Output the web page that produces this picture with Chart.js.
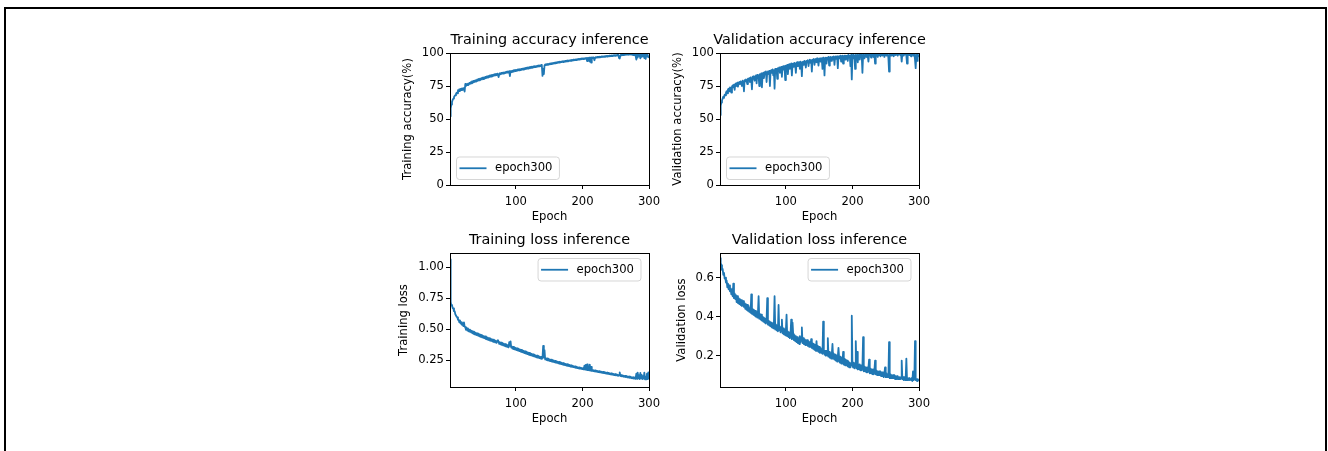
<!DOCTYPE html>
<html>
<head>
<meta charset="utf-8">
<title>Training / validation inference</title>
<script src="https://cdn.jsdelivr.net/npm/chart.js@4.4.1/dist/chart.umd.min.js"></script>
<style>
  html, body { margin: 0; padding: 0; background: #fff; overflow: hidden; }
  body { width: 1328px; height: 451px; position: relative; }
  #frame { position: absolute; left: 4px; top: 7px; width: 1319px; height: 470px; border: 2px solid #000; }
  canvas { position: absolute; }
</style>
</head>
<body>
<div id="frame"></div>
<canvas id="trainAccChart"></canvas>
<canvas id="valAccChart"></canvas>
<canvas id="trainLossChart"></canvas>
<canvas id="valLossChart"></canvas>
<script>
// tick labels
const xTicks = [100, 200, 300];
const accTicks = [0, 25, 50, 75, 100];
const trainLossTicks = [0.25, 0.5, 0.75, 1.0];
const valLossTicks = [0.2, 0.4, 0.6];
const seriesLabel = "epoch300";

// values, one per epoch (1..300)
const trainAcc = [
  52, 58, 61, 63, 64.5, 65.5, 66.5, 67.5, 68, 69,
  70, 69.5, 71.8, 71, 72.5, 71.2, 72.8, 71.8, 73.2, 72.2,
  73.3, 72.4, 70.8, 76.5, 75, 76.4, 75.6, 76.8, 76, 77.3,
  76.6, 77.8, 77, 78.4, 77.4, 78.8, 77.9, 79.1, 78.3, 79.5,
  78.6, 79.9, 79, 80.3, 79.3, 80.6, 79.7, 81, 80, 81.3,
  80.3, 81.6, 80.6, 81.9, 81, 82.2, 81.3, 82.5, 81.6, 82.8,
  81.9, 83.1, 82.2, 83.4, 82.5, 83.6, 82.8, 83.9, 83.1, 84.1,
  83.3, 84.3, 83.5, 81.8, 83.8, 84.7, 84, 84.9, 84.2, 85.1,
  84.4, 85.3, 84.6, 85.5, 84.9, 85.8, 85.1, 86, 85.3, 86.2,
  82.5, 86.3, 85.6, 86.5, 85.8, 86.8, 86, 87, 86.3, 87.2,
  86.5, 87.4, 86.7, 87.6, 86.9, 87.8, 87.1, 88, 87.3, 88.2,
  87.5, 88.4, 87.7, 88.6, 87.9, 88.8, 88.1, 89, 88.3, 89.2,
  88.5, 89.4, 88.7, 89.6, 88.9, 89.8, 89.1, 90, 89.3, 90.1,
  89.5, 90.3, 89.7, 90.5, 89.9, 90.7, 90.1, 90.9, 90.3, 82.6,
  88, 84, 90.6, 91.3, 90.8, 91.5, 91, 91.7, 91.2, 91.9,
  91.4, 92.1, 91.6, 92.3, 91.8, 92.5, 92, 92.7, 92.2, 92.9,
  92.4, 93.1, 92.6, 93.2, 92.8, 93.4, 92.9, 93.5, 93.1, 93.7,
  93.2, 93.8, 93.4, 94, 93.5, 94.1, 93.7, 94.3, 93.8, 94.4,
  94, 94.6, 94.1, 94.7, 94.3, 94.9, 94.4, 95, 94.6, 95.2,
  94.7, 95.3, 94.9, 95.5, 95, 95.6, 95.2, 95.8, 95.3, 95.9,
  95.4, 96, 95.5, 96.1, 95.7, 96.2, 93.8, 96.3, 95.9, 96.4,
  93.5, 96.5, 92.8, 96.6, 96.1, 96.7, 96.2, 94.5, 96.4, 96.9,
  96.5, 97, 96.6, 97.1, 96.7, 97.2, 96.8, 97.3, 96.9, 97.4,
  97, 97.5, 97.1, 97.6, 97.2, 97.7, 97.3, 97.8, 97.4, 97.9,
  97.5, 98, 97.6, 98.1, 97.7, 98.2, 97.8, 98.3, 97.9, 98.4,
  98, 98.5, 98.1, 98.6, 96.2, 95.8, 98.2, 98.7, 98.3, 98.8,
  98.4, 98.9, 98.5, 99, 98.6, 99, 98.7, 99.1, 98.7, 99.2,
  98.8, 99.2, 98.8, 99.3, 98.9, 98.5, 99.3, 98.4, 99.2, 97.5,
  95, 98.8, 96.5, 99, 97.8, 98.5, 96, 99.2, 97, 98.8,
  97.5, 99.3, 96.2, 98.5, 95.5, 99, 97.5, 98.6, 96.8, 97.2
];

const valAcc = [
  53, 60, 62.5, 64, 65.5, 67, 66, 68.5, 68, 70,
  71, 69.5, 72.5, 73, 71, 74, 73.5, 70, 74.5, 75.5,
  74, 76, 72, 76.5, 77, 75, 77.5, 74.5, 77, 78,
  76.5, 78.5, 77, 75, 79, 78, 71, 79.5, 78.5, 80,
  79, 76.5, 80.5, 79.5, 81, 78, 81.5, 80, 72.5, 82,
  80.5, 82.5, 79, 82, 83, 77, 83.5, 81.5, 83, 75,
  84, 82.5, 84.5, 74, 84, 85, 81, 85.5, 84, 86,
  78, 85.5, 86, 84, 86.5, 75, 86, 87, 85, 87.5,
  83, 87, 73, 88, 86.5, 88, 80.5, 88.5, 87, 89,
  85, 88.5, 89.5, 82, 89, 90, 87.5, 90, 79.5, 90.5,
  89.5, 91, 84, 90.5, 91.5, 88, 91, 92, 83, 91.5,
  92, 89.5, 92.5, 91, 85, 92.5, 93, 90, 92.5, 93,
  88, 93.5, 92, 82.5, 93, 93.5, 91, 94, 93, 89,
  94, 93.5, 94.5, 90, 94, 95, 92.5, 94.5, 86, 95,
  94, 95.5, 91, 95, 95.5, 93, 96, 94.5, 90.5, 95.5,
  96, 93.5, 96, 95, 88, 96.5, 95, 83, 96, 96.5,
  92, 96.5, 95.5, 97, 90.5, 96.5, 97, 94, 96.5, 97,
  95, 97.5, 91, 97, 97.5, 95.5, 97.5, 88.5, 97, 97.5,
  96, 98, 93.5, 97.5, 98, 92, 97.5, 98, 95, 98,
  97, 98, 94, 98.5, 97.5, 98, 90, 98.5, 80, 97.5,
  98.5, 96, 98, 88, 98.5, 97, 98.5, 93, 98, 98.5,
  95, 98.5, 99, 97.5, 85, 98.5, 99, 96, 98.5, 99,
  97, 99, 98, 93.5, 99, 98.5, 99, 96.5, 99, 98.5,
  99, 97, 99, 92, 99, 98.5, 99.5, 97, 99, 98.5,
  99.5, 97.5, 99, 99.5, 98, 99, 99.5, 97, 99.5, 99,
  98, 99.5, 99, 96.5, 86, 99.5, 99, 98, 99.5, 99,
  99.5, 97.5, 99, 99.5, 98.5, 99.5, 99, 98, 99.5, 99,
  99.5, 98.5, 99, 93.5, 99.5, 99, 98, 99.5, 99, 99.5,
  98, 92, 99.5, 99, 98.5, 99.5, 99, 97.5, 99.5, 99,
  99.5, 98, 99.5, 95, 88.5, 99, 94, 99.5, 97.5, 98.5
];

const trainLoss = [
  1.064, 0.72, 0.69, 0.695, 0.67, 0.668, 0.645, 0.645, 0.62, 0.62,
  0.60, 0.595, 0.575, 0.575, 0.555, 0.57, 0.545, 0.555, 0.535, 0.545,
  0.525, 0.555, 0.52, 0.515, 0.495, 0.51, 0.488, 0.505, 0.482, 0.495,
  0.478, 0.49, 0.472, 0.486, 0.466, 0.48, 0.46, 0.475, 0.455, 0.47,
  0.452, 0.466, 0.448, 0.462, 0.442, 0.458, 0.438, 0.452, 0.434, 0.448,
  0.43, 0.444, 0.426, 0.44, 0.42, 0.436, 0.416, 0.43, 0.412, 0.426,
  0.408, 0.422, 0.404, 0.418, 0.40, 0.414, 0.396, 0.41, 0.392, 0.406,
  0.388, 0.402, 0.41, 0.398, 0.38, 0.394, 0.376, 0.39, 0.372, 0.386,
  0.368, 0.382, 0.364, 0.378, 0.36, 0.374, 0.356, 0.37, 0.352, 0.395,
  0.365, 0.40, 0.35, 0.36, 0.342, 0.356, 0.338, 0.352, 0.334, 0.348,
  0.33, 0.344, 0.326, 0.34, 0.322, 0.336, 0.318, 0.332, 0.314, 0.328,
  0.31, 0.324, 0.306, 0.32, 0.302, 0.316, 0.298, 0.312, 0.294, 0.308,
  0.29, 0.304, 0.287, 0.30, 0.283, 0.296, 0.28, 0.292, 0.276, 0.288,
  0.272, 0.285, 0.269, 0.282, 0.266, 0.278, 0.262, 0.275, 0.259, 0.27,
  0.365, 0.27, 0.33, 0.255, 0.266, 0.25, 0.262, 0.247, 0.259, 0.244,
  0.255, 0.241, 0.252, 0.238, 0.249, 0.235, 0.246, 0.232, 0.243, 0.229,
  0.24, 0.226, 0.237, 0.223, 0.234, 0.22, 0.231, 0.217, 0.228, 0.214,
  0.225, 0.211, 0.222, 0.208, 0.219, 0.205, 0.216, 0.203, 0.213, 0.2,
  0.21, 0.197, 0.207, 0.195, 0.204, 0.192, 0.201, 0.19, 0.198, 0.187,
  0.195, 0.184, 0.192, 0.182, 0.19, 0.18, 0.188, 0.178, 0.186, 0.176,
  0.184, 0.174, 0.205, 0.172, 0.21, 0.17, 0.215, 0.168, 0.2, 0.166,
  0.212, 0.164, 0.195, 0.162, 0.17, 0.16, 0.168, 0.158, 0.166, 0.156,
  0.164, 0.154, 0.162, 0.152, 0.16, 0.15, 0.158, 0.148, 0.156, 0.146,
  0.154, 0.144, 0.152, 0.142, 0.15, 0.14, 0.148, 0.138, 0.146, 0.136,
  0.144, 0.134, 0.142, 0.132, 0.14, 0.13, 0.138, 0.128, 0.136, 0.126,
  0.134, 0.124, 0.132, 0.122, 0.13, 0.15, 0.12, 0.128, 0.118, 0.126,
  0.116, 0.124, 0.114, 0.122, 0.112, 0.12, 0.11, 0.118, 0.108, 0.116,
  0.106, 0.114, 0.104, 0.112, 0.102, 0.11, 0.1, 0.108, 0.098, 0.106,
  0.14, 0.098, 0.148, 0.104, 0.125, 0.096, 0.145, 0.102, 0.13, 0.095,
  0.12, 0.1, 0.148, 0.094, 0.11, 0.093, 0.14, 0.096, 0.15, 0.092
];

const valLoss = [
  0.70, 0.675, 0.665, 0.64, 0.645, 0.615, 0.625, 0.595, 0.60, 0.575,
  0.585, 0.55, 0.57, 0.54, 0.56, 0.53, 0.545, 0.515, 0.54, 0.505,
  0.57, 0.495, 0.52, 0.49, 0.51, 0.475, 0.505, 0.47, 0.495, 0.465,
  0.49, 0.46, 0.485, 0.455, 0.475, 0.48, 0.45, 0.47, 0.44, 0.465,
  0.435, 0.46, 0.43, 0.455, 0.425, 0.445, 0.42, 0.515, 0.415, 0.44,
  0.41, 0.435, 0.405, 0.43, 0.40, 0.425, 0.395, 0.42, 0.505, 0.39,
  0.415, 0.385, 0.41, 0.38, 0.40, 0.375, 0.395, 0.37, 0.39, 0.365,
  0.385, 0.495, 0.36, 0.38, 0.355, 0.375, 0.35, 0.37, 0.345, 0.365,
  0.34, 0.365, 0.505, 0.335, 0.36, 0.33, 0.355, 0.325, 0.46, 0.33,
  0.35, 0.32, 0.345, 0.385, 0.315, 0.34, 0.31, 0.335, 0.305, 0.33,
  0.41, 0.30, 0.325, 0.295, 0.32, 0.29, 0.315, 0.385, 0.285, 0.37,
  0.31, 0.28, 0.305, 0.275, 0.30, 0.27, 0.295, 0.265, 0.29, 0.26,
  0.30, 0.27, 0.295, 0.345, 0.265, 0.29, 0.26, 0.285, 0.255, 0.28,
  0.255, 0.28, 0.25, 0.275, 0.245, 0.27, 0.245, 0.285, 0.24, 0.265,
  0.235, 0.26, 0.23, 0.255, 0.225, 0.275, 0.225, 0.25, 0.22, 0.245,
  0.215, 0.24, 0.215, 0.235, 0.21, 0.375, 0.23, 0.205, 0.225, 0.20,
  0.225, 0.20, 0.29, 0.195, 0.22, 0.19, 0.215, 0.185, 0.21, 0.26,
  0.185, 0.21, 0.18, 0.205, 0.175, 0.20, 0.17, 0.195, 0.24, 0.19,
  0.165, 0.195, 0.16, 0.19, 0.16, 0.22, 0.155, 0.185, 0.15, 0.18,
  0.15, 0.175, 0.145, 0.17, 0.14, 0.165, 0.14, 0.16, 0.405, 0.15,
  0.14, 0.165, 0.135, 0.16, 0.275, 0.135, 0.22, 0.13, 0.155, 0.13,
  0.155, 0.125, 0.15, 0.125, 0.145, 0.295, 0.12, 0.145, 0.12, 0.14,
  0.115, 0.14, 0.115, 0.135, 0.18, 0.11, 0.135, 0.11, 0.13, 0.105,
  0.13, 0.105, 0.125, 0.175, 0.105, 0.125, 0.10, 0.12, 0.10, 0.12,
  0.10, 0.12, 0.095, 0.115, 0.095, 0.115, 0.09, 0.11, 0.14, 0.09,
  0.11, 0.09, 0.105, 0.09, 0.27, 0.085, 0.105, 0.085, 0.10, 0.085,
  0.10, 0.085, 0.10, 0.08, 0.095, 0.08, 0.095, 0.08, 0.09, 0.08,
  0.09, 0.08, 0.09, 0.175, 0.08, 0.09, 0.075, 0.09, 0.075, 0.085,
  0.185, 0.075, 0.085, 0.075, 0.085, 0.075, 0.08, 0.075, 0.085, 0.07,
  0.12, 0.075, 0.08, 0.275, 0.075, 0.08, 0.07, 0.08, 0.075, 0.072
];

const epochs = trainAcc.map((v, i) => i + 1);

const BLUE = "#1f77b4";
const FONT = "DejaVu Sans";
const SMALL = 11.6;
const TITLE_SIZE = 14.4;
const Y_AXIS_W = 62, TOP_H = 34, X_AXIS_H = 44, RIGHT_PAD = 20;

Chart.defaults.color = "#000";
Chart.defaults.font.family = FONT;

// matplotlib-like spines on all four sides
const framePlugin = {
    id: "frame",
    afterDatasetsDraw(chart) {
        const a = chart.chartArea;
        const ctx = chart.ctx;
        ctx.save();
        ctx.strokeStyle = "#000";
        ctx.lineWidth = 1;
        ctx.strokeRect(a.left + 0.5, a.top + 0.5, a.right - a.left, a.bottom - a.top);
        ctx.restore();
    }
};

// axes title, centred over the plot area like matplotlib
const axesTitlePlugin = {
    id: "axesTitle",
    afterDraw(chart, args, opts) {
        const a = chart.chartArea;
        const ctx = chart.ctx;
        ctx.save();
        ctx.font = `${TITLE_SIZE}px "${FONT}"`;
        ctx.fillStyle = "#000";
        ctx.textAlign = "center";
        ctx.textBaseline = "middle";
        ctx.fillText(opts.text, (a.left + a.right) / 2, a.top - 12.8);
        ctx.restore();
    }
};

// legend box drawn inside the axes
const legendPlugin = {
    id: "mplLegend",
    afterDraw(chart, args, opts) {
        const a = chart.chartArea;
        const ctx = chart.ctx;
        const ds = chart.data.datasets[0];
        ctx.save();
        ctx.font = `${SMALL}px "${FONT}"`;
        const tw = ctx.measureText(ds.label).width;
        const w = 38.5 + tw + 7;
        const h = 22.5;
        let x, y;
        if (opts.loc === "lower left") {
            x = a.left + 6.5;
            y = a.bottom - 5.5 - h;
        } else {
            x = a.right - 8 - w;
            y = a.top + 5.5;
        }
        ctx.beginPath();
        ctx.roundRect(x, y, w, h, 3);
        ctx.fillStyle = "rgba(255,255,255,0.8)";
        ctx.fill();
        ctx.strokeStyle = "rgba(204,204,204,0.8)";
        ctx.lineWidth = 1;
        ctx.stroke();
        const cy = y + h / 2;
        ctx.beginPath();
        ctx.moveTo(x + 3, cy);
        ctx.lineTo(x + 30, cy);
        ctx.strokeStyle = ds.borderColor;
        ctx.lineWidth = 1.8;
        ctx.stroke();
        ctx.fillStyle = "#000";
        ctx.textBaseline = "middle";
        ctx.textAlign = "left";
        ctx.fillText(ds.label, x + 38.5, cy);
        ctx.restore();
    }
};

function makeChart(c) {
    const canvas = document.getElementById(c.id);
    const plotW = c.box.r - c.box.l;
    const plotH = c.box.b - c.box.t;
    const w = Y_AXIS_W + plotW + RIGHT_PAD;
    const h = TOP_H + plotH + X_AXIS_H;
    canvas.width = w;
    canvas.height = h;
    canvas.style.width = w + "px";
    canvas.style.height = h + "px";
    canvas.style.left = (c.box.l - Y_AXIS_W) + "px";
    canvas.style.top = (c.box.t - TOP_H) + "px";

    const small = { family: FONT, size: SMALL };
    const tickGrid = { drawOnChartArea: false, drawTicks: true, tickLength: 4, color: "#000", lineWidth: 1 };

    return new Chart(canvas, {
        type: "line",
        data: {
            datasets: [{
                label: seriesLabel,
                data: c.values.map((v, i) => ({ x: epochs[i], y: v })),
                borderColor: BLUE,
                borderWidth: 1.8,
                borderJoinStyle: "round",
                pointRadius: 0,
                fill: false,
                tension: 0
            }]
        },
        options: {
            responsive: false,
            animation: false,
            devicePixelRatio: 1,
            layout: { padding: { left: 0, top: TOP_H, right: RIGHT_PAD, bottom: 0 } },
            plugins: {
                legend: { display: false },
                tooltip: { enabled: false },
                title: { display: false },
                axesTitle: { text: c.title },
                mplLegend: { loc: c.legend }
            },
            scales: {
                x: {
                    type: "linear",
                    min: 1,
                    max: 300,
                    afterBuildTicks: s => { s.ticks = xTicks.map(v => ({ value: v })); },
                    afterFit: s => { s.height = X_AXIS_H; },
                    ticks: { font: small, color: "#000", padding: 6.5, maxRotation: 0, autoSkip: false,
                             callback: v => String(v) },
                    grid: tickGrid,
                    border: { display: false },
                    title: { display: true, text: "Epoch", font: small, color: "#000",
                             padding: { top: 0, bottom: 5.2 } }
                },
                y: {
                    type: "linear",
                    min: c.yMin,
                    max: c.yMax,
                    afterBuildTicks: s => { s.ticks = c.yTicks.map(v => ({ value: v })); },
                    afterFit: s => { s.width = Y_AXIS_W; },
                    ticks: { font: small, color: "#000", padding: 2, autoSkip: false,
                             callback: v => Number(v).toFixed(c.digits) },
                    grid: tickGrid,
                    border: { display: false },
                    title: { display: true, text: c.yTitle, font: small, color: "#000",
                             padding: { top: c.yTitlePad, bottom: 0 } }
                }
            }
        },
        plugins: [framePlugin, axesTitlePlugin, legendPlugin]
    });
}

makeChart({
    id: "trainAccChart", box: { l: 450, t: 53, r: 649, b: 185 },
    title: "Training accuracy inference", yTitle: "Training accuracy(%)", yTitlePad: 12.7,
    values: trainAcc, yMin: 0, yMax: 100, yTicks: accTicks, digits: 0, legend: "lower left"
});
makeChart({
    id: "valAccChart", box: { l: 720, t: 53, r: 919, b: 185 },
    title: "Validation accuracy inference", yTitle: "Validation accuracy(%)", yTitlePad: 13,
    values: valAcc, yMin: 0, yMax: 100, yTicks: accTicks, digits: 0, legend: "lower left"
});
makeChart({
    id: "trainLossChart", box: { l: 450, t: 253, r: 649, b: 387 },
    title: "Training loss inference", yTitle: "Training loss", yTitlePad: 9,
    values: trainLoss, yMin: 0.0316, yMax: 1.1157, yTicks: trainLossTicks, digits: 2, legend: "upper right"
});
makeChart({
    id: "valLossChart", box: { l: 720, t: 253, r: 919, b: 387 },
    title: "Validation loss inference", yTitle: "Validation loss", yTitlePad: 17.5,
    values: valLoss, yMin: 0.0395, yMax: 0.7267, yTicks: valLossTicks, digits: 1, legend: "upper right"
});
</script>
</body>
</html>
